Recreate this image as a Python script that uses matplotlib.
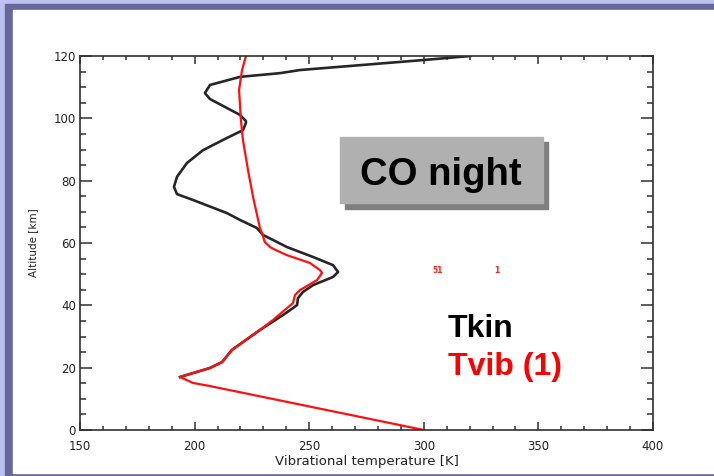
import matplotlib
matplotlib.use("Agg")
import matplotlib.pyplot as plt
from matplotlib.patches import Rectangle
from matplotlib.ticker import MultipleLocator

# Kinetic temperature profile (K) against altitude (km)
tkin_temp = [193.6, 194.9, 206.7, 212.0, 216.3, 228.5, 238.6, 242.9, 244.7,
             245.1, 247.3, 251.7, 260.4, 262.6, 260.4, 251.7, 240.3, 229.8,
             227.2, 219.8, 214.1, 199.3, 192.3, 191.0, 192.3, 196.7, 203.7,
             214.1, 221.1, 222.4, 222.4, 219.8, 206.7, 204.5, 206.7, 219.8,
             237.3, 246.0, 299.7, 320.2]
tkin_alt = [17.0, 17.3, 19.9, 21.8, 25.7, 32.1, 36.9, 39.1, 40.1,
            42.3, 44.3, 46.5, 49.1, 50.7, 52.9, 55.5, 58.7, 62.6,
            64.8, 67.4, 69.6, 73.8, 75.7, 78.0, 81.2, 85.7, 89.8,
            93.7, 96.2, 98.5, 99.1, 101.1, 106.2, 108.1, 110.7, 113.3,
            114.5, 115.5, 118.7, 120.0]

# Vibrational temperature of CO (K) against altitude (km)
tvib_temp = [300.0, 206.7, 199.3, 193.6, 194.9, 206.7, 212.0, 216.3, 228.5,
             234.2, 240.3, 242.9, 243.8, 246.0, 253.4, 255.6, 254.7, 250.3,
             240.3, 235.5, 232.9, 230.6, 229.4, 228.5, 225.5, 223.3, 221.1,
             220.2, 219.4, 220.7, 222.4]
tvib_alt = [0.0, 14.1, 15.1, 17.0, 17.3, 19.9, 21.8, 25.7, 32.1,
            35.3, 39.1, 40.7, 43.3, 44.9, 48.1, 50.4, 51.3, 53.6,
            56.1, 57.7, 58.7, 60.3, 63.2, 64.8, 74.8, 83.4, 93.0,
            99.5, 109.1, 115.5, 120.0]

x_ticks = [150, 200, 250, 300, 350, 400]
y_ticks = [0, 20, 40, 60, 80, 100, 120]
x_label = "Vibrational temperature [K]"
y_label = "Altitude [km]"
title_text = "CO night"
legend_labels = ["Tkin", "Tvib (1)"]
legend_colors = ["black", "#ff0000"]
# small level markers printed at 51 km
marker_texts = ["51", "1"]
marker_temp = [306.0, 332.0]
marker_alt = [51.3, 51.3]

W, H = 714, 476
fig = plt.figure(figsize=(W / 100, H / 100), dpi=100)


def fx(px):
    return px / W


def fy(py):
    return 1 - py / H


# slide-style frame
light = "#bcc2ef"
dark = "#67679b"
fig.patches.append(Rectangle((0, 0), 1, 1, transform=fig.transFigure,
                             color=light, zorder=-30))
fig.patches.append(Rectangle((fx(5), 0), 1, fy(3.5), transform=fig.transFigure,
                             color=dark, zorder=-29))
fig.patches.append(Rectangle((fx(13), fy(472.7)), 1, fy(10) - fy(472.7),
                             transform=fig.transFigure, color="white", zorder=-28))

ax = fig.add_axes([fx(80), fy(430), fx(653) - fx(80), fy(56) - fy(430)])
ax.set_facecolor("none")

ax.plot(tkin_temp, tkin_alt, color="#262626", lw=1.9, solid_joinstyle="round")
ax.plot(tvib_temp, tvib_alt, color="#ff1010", lw=1.6, solid_joinstyle="round")

ax.set_xlim(150, 400)
ax.set_ylim(0, 120)
ax.set_xticks(x_ticks)
ax.set_yticks(y_ticks)
ax.xaxis.set_minor_locator(MultipleLocator(10))
ax.yaxis.set_minor_locator(MultipleLocator(5))

axis_col = "#303030"
for s in ax.spines.values():
    s.set_linewidth(1.2)
    s.set_color(axis_col)
ax.tick_params(which="both", direction="in", top=True, right=True,
               color=axis_col, width=1.1, labelcolor="#222222", labelsize=8.5)
ax.xaxis.set_tick_params(which="major", length=5.5, pad=7)
ax.xaxis.set_tick_params(which="minor", length=2.8)
ax.yaxis.set_tick_params(which="major", length=8.5, pad=3)
ax.yaxis.set_tick_params(which="minor", length=4.2)

ax.set_xlabel(x_label, fontsize=9.5, color="#222222", labelpad=2)
ax.set_ylabel(y_label, fontsize=7.5, color="#222222", labelpad=11)

for t, xx, yy in zip(marker_texts, marker_temp, marker_alt):
    ax.text(xx, yy, t, color="#ff2020", fontsize=5.5, fontweight="bold",
            ha="center", va="center")

# title box with drop shadow
fig.patches.append(Rectangle((fx(345), fy(209)), fx(548) - fx(345), fy(142) - fy(209),
                             transform=fig.transFigure, color="#7f7f7f", zorder=5))
fig.patches.append(Rectangle((fx(340), fy(203)), fx(543) - fx(340), fy(137) - fy(203),
                             transform=fig.transFigure, color="#b0b0b0", zorder=6))
fig.text(fx(441), fy(185), title_text, fontsize=27.5, fontweight="bold",
         family="Liberation Sans", ha="center", va="baseline", zorder=7)

fig.text(fx(448), fy(337), legend_labels[0], fontsize=23, fontweight="bold",
         family="Liberation Sans", color=legend_colors[0], ha="left", va="baseline")
fig.text(fx(448), fy(375), legend_labels[1], fontsize=23, fontweight="bold",
         family="Liberation Sans", color=legend_colors[1], ha="left", va="baseline")

fig.savefig("out.png", dpi=100)
